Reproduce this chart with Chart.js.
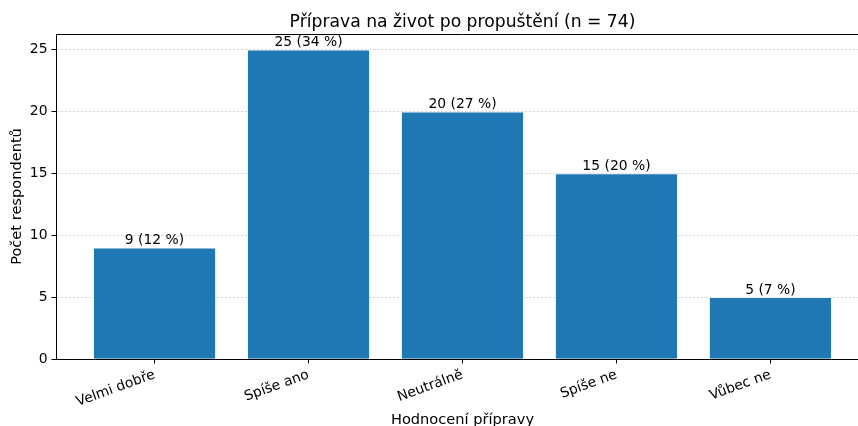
<!doctype html>
<html lang="cs">
<head>
<meta charset="utf-8">
<title>Příprava na život po propuštění</title>
<script src="https://cdn.jsdelivr.net/npm/chart.js@4.4.0/dist/chart.umd.min.js"></script>
<style>
    html, body { margin: 0; padding: 0; overflow: hidden; background: #fff; }
    #wrap { position: absolute; left: 0; top: 0; width: 880px; height: 436px; }
</style>
</head>
<body>
<div id="wrap"><canvas id="chart"></canvas></div>
<script>
    // data
    const categories = ['Velmi dobře', 'Spíše ano', 'Neutrálně', 'Spíše ne', 'Vůbec ne'];
    const counts = [9, 25, 20, 15, 5];
    const total = 74;
    const yTicks = [0, 5, 10, 15, 20, 25];
    const chartTitle = 'Příprava na život po propuštění (n = ' + total + ')';

    const FONT = '"DejaVu Sans", sans-serif';

    // value labels above bars
    const barLabels = {
        id: 'barLabels',
        afterDatasetsDraw(chart) {
            const ctx = chart.ctx;
            const meta = chart.getDatasetMeta(0);
            ctx.save();
            ctx.font = '13.9px ' + FONT;
            ctx.fillStyle = '#000';
            ctx.textAlign = 'center';
            ctx.textBaseline = 'bottom';
            meta.data.forEach(function (bar, i) {
                const pct = Math.round(counts[i] * 100 / total);
                ctx.fillText(counts[i] + ' (' + pct + ' %)', bar.x, bar.y);
            });
            ctx.restore();
        }
    };

    // top + right spines, title centred over the plot area
    const frame = {
        id: 'frame',
        afterDatasetsDraw(chart) {
            const {ctx, chartArea: a} = chart;
            ctx.save();
            ctx.strokeStyle = '#000';
            ctx.lineWidth = 1;
            ctx.beginPath();
            ctx.moveTo(a.left, a.top + 0.5);
            ctx.lineTo(a.right, a.top + 0.5);
            ctx.lineTo(a.right, a.bottom);
            ctx.stroke();

            ctx.font = '17.2px ' + FONT;
            ctx.fillStyle = '#000';
            ctx.textAlign = 'center';
            ctx.textBaseline = 'alphabetic';
            ctx.fillText(chartTitle, (a.left + a.right) / 2, 27);
            ctx.restore();
        }
    };

    new Chart(document.getElementById('chart'), {
        type: 'bar',
        data: {
            datasets: [{
                data: counts.map(function (v, i) { return {x: i, y: v}; }),
                backgroundColor: '#1f77b4',
                borderColor: 'rgba(255,255,255,0.55)',
                borderWidth: 1,
                barPercentage: 0.8,
                categoryPercentage: 1.0
            }]
        },
        options: {
            responsive: true,
            maintainAspectRatio: false,
            animation: false,
            layout: { padding: { left: 0, right: 11, top: 34, bottom: 0 } },
            plugins: {
                legend: { display: false },
                tooltip: { enabled: false },
                title: { display: false }
            },
            scales: {
                x: {
                    type: 'linear',
                    min: -0.64,
                    max: 4.64,
                    offset: false,
                    afterBuildTicks: function (scale) {
                        scale.ticks = categories.map(function (c, i) { return {value: i}; });
                    },
                    afterFit: function (scale) { scale.height = 77; },
                    ticks: {
                        autoSkip: false,
                        minRotation: 20,
                        maxRotation: 20,
                        padding: 3,
                        color: '#000',
                        font: { family: FONT, size: 13.9 },
                        callback: function (value) { return categories[value]; }
                    },
                    grid: {
                        offset: false,
                        drawOnChartArea: false,
                        drawTicks: true,
                        tickLength: 4.5,
                        tickColor: '#000',
                        tickWidth: 1
                    },
                    border: { display: true, color: '#000', width: 1 },
                    title: {
                        display: true,
                        text: 'Hodnocení přípravy',
                        color: '#000',
                        font: { family: FONT, size: 14.6 },
                        padding: { top: 0, bottom: 7 }
                    }
                },
                y: {
                    min: 0,
                    max: 26.25,
                    afterBuildTicks: function (scale) {
                        scale.ticks = yTicks.map(function (v) { return {value: v}; });
                    },
                    afterFit: function (scale) { scale.width = 56; },
                    ticks: {
                        padding: 4,
                        color: '#000',
                        font: { family: FONT, size: 13.9 }
                    },
                    grid: {
                        color: 'rgba(176,176,176,0.85)',
                        lineWidth: 0.6,
                        drawTicks: true,
                        tickLength: 4.5,
                        tickColor: '#000',
                        tickWidth: 1,
                        tickBorderDash: []
                    },
                    border: { display: true, color: '#000', width: 1, dash: [2.5, 1.5] },
                    title: {
                        display: true,
                        text: 'Počet respondentů',
                        color: '#000',
                        font: { family: FONT, size: 14.6 },
                        padding: { top: 8.5, bottom: 0 }
                    }
                }
            }
        },
        plugins: [barLabels, frame]
    });
</script>
</body>
</html>
